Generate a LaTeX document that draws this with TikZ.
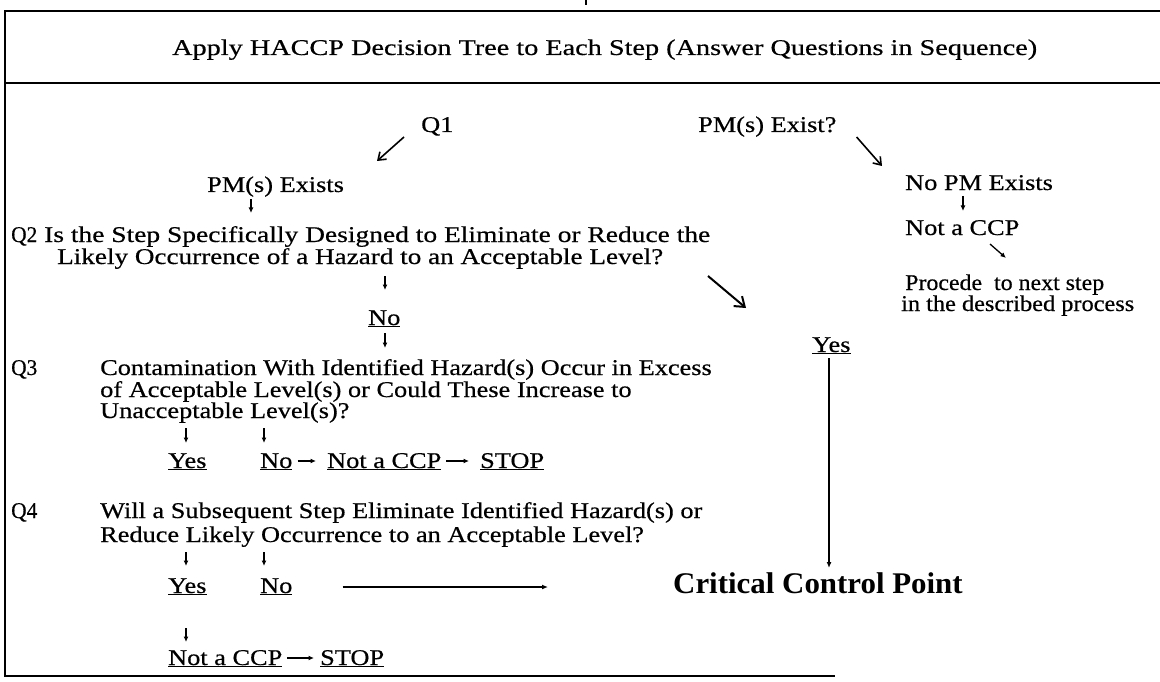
\documentclass[tikz,border=0pt]{standalone}
\usepackage{fontspec}
\usepackage{graphicx}
\setmainfont{Liberation Serif}[FakeStretch=1.17,FakeBold=0.5]
\newfontfamily\ccpfont{Liberation Serif}[FakeStretch=1.03]
\newfontfamily\qfont{Liberation Serif}[FakeStretch=0.95,FakeBold=0.5]
\usetikzlibrary{arrows.meta,calc}
\newcommand{\fitw}[2]{\resizebox{#1}{\height}{#2}}
\begin{document}
\begin{tikzpicture}[x=1pt,y=-1pt,
  txt/.style={inner sep=0pt, anchor=base west, font=\fontsize{22.5}{22}\selectfont},
  qlab/.style={inner sep=0pt, anchor=base west, font=\qfont\fontsize{22.5}{22}\selectfont},
  frame/.style={line width=1.6pt},
  sarr/.style={line width=1.3pt, -{Latex[length=5.5pt,width=5pt]}},
  darr/.style={line width=1.6pt, -{Straight Barb[length=7pt,width=10pt]}},
  barr/.style={line width=2pt, -{Straight Barb[length=9pt,width=13pt]}},
  larr/.style={line width=1.2pt, -{Latex[length=6pt,width=5pt]}}]
\useasboundingbox (0,0) rectangle (1160,682);
% frame
\draw[frame] (1160,11) -- (5,11) -- (5,676) -- (835,676);
\draw[frame] (5,83) -- (1160,83);
\draw[line width=2pt] (586,0) -- (586,5);
% title
\node[txt] (title) at (172,55) {\fitw{865pt}{Apply HACCP Decision Tree to Each Step (Answer Questions in Sequence)}};
% top row
\node[txt] (q1) at (421,132) {Q1};
\node[txt] (pmq) at (698,132) {PM(s) Exist?};
\node[txt] (pmx) at (207,192) {PM(s) Exists};
\node[txt] (nopm) at (905,190) {No PM Exists};
\node[txt] (nccpR) at (905,235) {Not a CCP};
\node[txt] (proc1) at (905,290) {\fitw{199pt}{Procede\ \ to next step}};
\node[txt] (proc2) at (901,311) {\fitw{233pt}{in the described process}};
% Q2
\node[qlab] (q2l) at (11,242) {Q2};
\node[txt] (q2a) at (44,242) {\fitw{666pt}{Is the Step Specifically Designed to Eliminate or Reduce the}};
\node[txt] (q2b) at (57,264) {\fitw{606pt}{Likely Occurrence of a Hazard to an Acceptable Level?}};
\node[txt] (no2) at (368,325) {\underline{No}};
% Q3
\node[qlab] (q3l) at (11,375) {Q3};
\node[txt] (q3a) at (100,375) {Contamination With Identified Hazard(s) Occur in Excess};
\node[txt] (q3b) at (100,397) {of Acceptable Level(s) or Could These Increase to};
\node[txt] (q3c) at (100,418) {Unacceptable Level(s)?};
\node[txt] (yes3) at (168,468) {\underline{Yes}};
\node[txt] (no3) at (260,468) {\underline{No}};
\node[txt] (nccp3) at (327,468) {\underline{Not a CCP}};
\node[txt] (stop3) at (480,468) {\underline{STOP}};
\node[txt] (yesR) at (812,352) {\underline{Yes}};
% Q4
\node[qlab] (q4l) at (11,518) {Q4};
\node[txt] (q4a) at (100,518) {Will a Subsequent Step Eliminate Identified Hazard(s) or};
\node[txt] (q4b) at (100,542) {Reduce Likely Occurrence to an Acceptable Level?};
\node[txt] (yes4) at (168,593) {\underline{Yes}};
\node[txt] (no4) at (260,593) {\underline{No}};
\node[inner sep=0pt, anchor=base west, font=\ccpfont\bfseries\fontsize{30}{30}\selectfont] (ccp) at (673,593) {Critical Control Point};
\node[txt] (nccp4) at (168,665) {\underline{Not a CCP}};
\node[txt] (stop4) at (320,665) {\underline{STOP}};
% connectors
\draw[darr] ($(q1.base west)+(-17,5)$) -- ($(pmx.base west)+(170,-31)$);
\draw[darr] ($(pmq.base east)+(20,5)$) -- ($(nopm.base west)+(-23,-24)$);
\draw[sarr] ($(pmx.base west)+(44,7)$) -- ++(0,14);
\draw[sarr] ($(nopm.base west)+(58,6)$) -- ++(0,15);
\draw[sarr] ($(nccpR.base west)+(85,9)$) -- ++(16,14);
\draw[barr] ($(q2a.base west)+(664,34)$) -- ($(ccp.base west)+(73,-285)$);
\draw[sarr] ($(q2b.base west)+(328,12)$) -- ++(0,14);
\draw[sarr] ($(no2.base west)+(17,8)$) -- ($(q3a.base west)+(285,-27)$);
\draw[sarr] ($(q3c.base west)+(86,10)$) -- ++(0,15);
\draw[sarr] ($(q3c.base west)+(164,10)$) -- ++(0,15);
\draw[sarr] ($(no3.base east)+(5,-7)$) -- ($(nccp3.base west)+(-11,-7)$);
\draw[sarr] ($(nccp3.base east)+(5,-7)$) -- ($(stop3.base west)+(-11,-7)$);
\draw[larr] ($(yesR.base west)+(17,6)$) -- ($(ccp.base west)+(156,-25)$);
\draw[sarr] ($(q4b.base west)+(86,10)$) -- ++(0,14);
\draw[sarr] ($(q4b.base west)+(164,10)$) -- ++(0,14);
\draw[larr] ($(no4.base east)+(50,-6)$) -- ($(ccp.base west)+(-125,-6)$);
\draw[sarr] ($(yes4.base west)+(18,35)$) -- ++(0,14);
\draw[sarr] ($(nccp4.base east)+(5,-7)$) -- ($(stop4.base west)+(-6,-7)$);
\end{tikzpicture}
\end{document}
